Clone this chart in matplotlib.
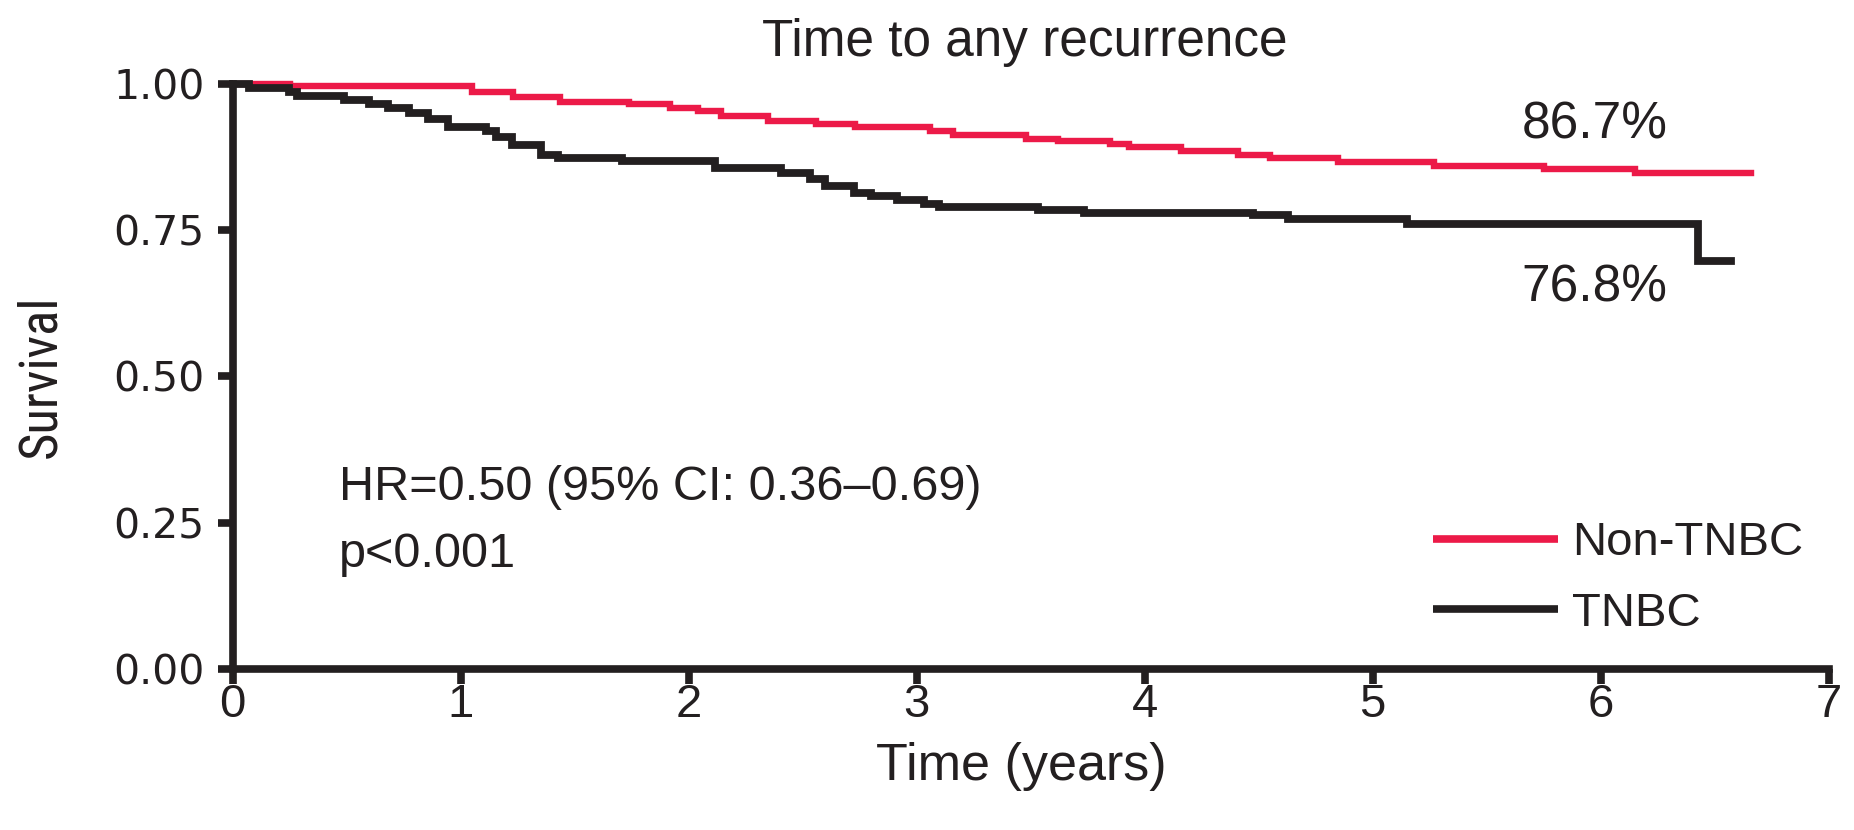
import matplotlib
matplotlib.use("Agg")
import matplotlib.pyplot as plt

# Kaplan-Meier step estimates (time in years, survival probability)
non_tnbc_time = [0, 0.25, 1.05, 1.23, 1.435, 1.74, 1.92, 2.04, 2.14, 2.35, 2.56, 2.73,
                 3.06, 3.16, 3.48, 3.62, 3.85, 3.93, 4.16, 4.41, 4.55, 4.85, 5.27,
                 5.75, 6.15, 6.66]
non_tnbc_surv = [1.0, 0.996, 0.986, 0.978, 0.970, 0.966, 0.959, 0.953, 0.946, 0.936,
                 0.932, 0.927, 0.919, 0.913, 0.906, 0.903, 0.898, 0.892, 0.885, 0.878,
                 0.874, 0.866, 0.859, 0.854, 0.847, 0.847]

tnbc_time = [0, 0.072, 0.248, 0.284, 0.49, 0.60, 0.68, 0.775, 0.856, 0.944, 1.113,
             1.157, 1.223, 1.354, 1.428, 1.706, 2.117, 2.403, 2.534, 2.60, 2.725,
             2.798, 2.916, 3.033, 3.099, 3.531, 3.736, 4.477, 4.631, 5.151, 6.426,
             6.573]
tnbc_surv = [1.0, 0.993, 0.986, 0.979, 0.973, 0.966, 0.959, 0.950, 0.940, 0.927,
             0.919, 0.910, 0.895, 0.879, 0.874, 0.868, 0.857, 0.848, 0.837, 0.825,
             0.814, 0.808, 0.802, 0.795, 0.789, 0.785, 0.779, 0.776, 0.769, 0.760,
             0.698, 0.698]

series_labels = ["Non-TNBC", "TNBC"]
five_year_labels = ["86.7%", "76.8%"]
x_ticks = [0, 1, 2, 3, 4, 5, 6, 7]
y_ticks = [0.0, 0.25, 0.50, 0.75, 1.00]
y_tick_labels = ["0.00", "0.25", "0.50", "0.75", "1.00"]

RED = "#EC1A48"
INK = "#231F20"
SANS = ["Liberation Sans", "DejaVu Sans"]
WIDE = ["DejaVu Sans"]
CONDENSED = ["Roboto Condensed", "Liberation Sans Narrow", "DejaVu Sans"]

fig = plt.figure(figsize=(18.54, 8.30), dpi=100)
ax = fig.add_axes([0.1255, 0.194, 0.8608, 0.7048])

ax.step(non_tnbc_time, non_tnbc_surv, where="post", color=RED, lw=4.6,
        label=series_labels[0], clip_on=False, zorder=3, solid_joinstyle="miter")
ax.step(tnbc_time, tnbc_surv, where="post", color=INK, lw=5.6,
        label=series_labels[1], clip_on=False, zorder=4, solid_joinstyle="miter")

ax.set_xlim(0, 7)
ax.set_ylim(0, 1)
for side in ("top", "right"):
    ax.spines[side].set_visible(False)
for side in ("left", "bottom"):
    ax.spines[side].set_linewidth(5.5)
    ax.spines[side].set_color(INK)
    ax.spines[side].set_zorder(5)

ax.set_xticks(x_ticks)
ax.set_xticklabels([str(v) for v in x_ticks], family=SANS, fontsize=34, color=INK)
ax.set_yticks(y_ticks)
ax.set_yticklabels(y_tick_labels, family=WIDE, fontsize=29.5, color=INK)
ax.tick_params(axis="both", direction="out", length=11, width=5.5, color=INK)
ax.tick_params(axis="y", pad=9)
ax.tick_params(axis="x", pad=-1)

ax.text(0.496, 1.0485, "Time to any recurrence", transform=ax.transAxes,
        family=SANS, fontsize=37, color=INK, ha="center", va="baseline")
ax.set_xlabel("Time (years)", family=SANS, fontsize=37.5, color=INK)
ax.xaxis.label.set_va("baseline")
ax.xaxis.set_label_coords(0.494, -0.19)
ax.set_ylabel("Survival", family=CONDENSED, stretch="condensed", fontsize=38,
              color=INK)
ax.yaxis.label.set_va("center")
ax.yaxis.set_label_coords(-0.12, 0.5)

ax.text(0.4676, 0.289, "HR=0.50 (95% CI: 0.36\u20130.69)", family=SANS, fontsize=35,
        color=INK, ha="left", va="baseline")
ax.text(0.4676, 0.1735, "p<0.001", family=SANS, fontsize=35, color=INK,
        ha="left", va="baseline")

ax.text(5.973, 0.907, five_year_labels[0], family=SANS, fontsize=37, color=INK,
        ha="center", va="baseline")
ax.text(5.973, 0.628, five_year_labels[1], family=SANS, fontsize=37, color=INK,
        ha="center", va="baseline")

leg = ax.legend(loc="center left", bbox_to_anchor=(0.752, 0.155), frameon=False,
                prop={"family": SANS, "size": 34}, handlelength=2.65,
                handletextpad=0.3, labelspacing=0.56, borderpad=0, borderaxespad=0)
for line in leg.get_lines():
    line.set_linewidth(5.5)
    line.set_solid_capstyle("butt")
for text in leg.get_texts():
    text.set_color(INK)

fig.savefig("out.png", dpi=100, facecolor="white")
